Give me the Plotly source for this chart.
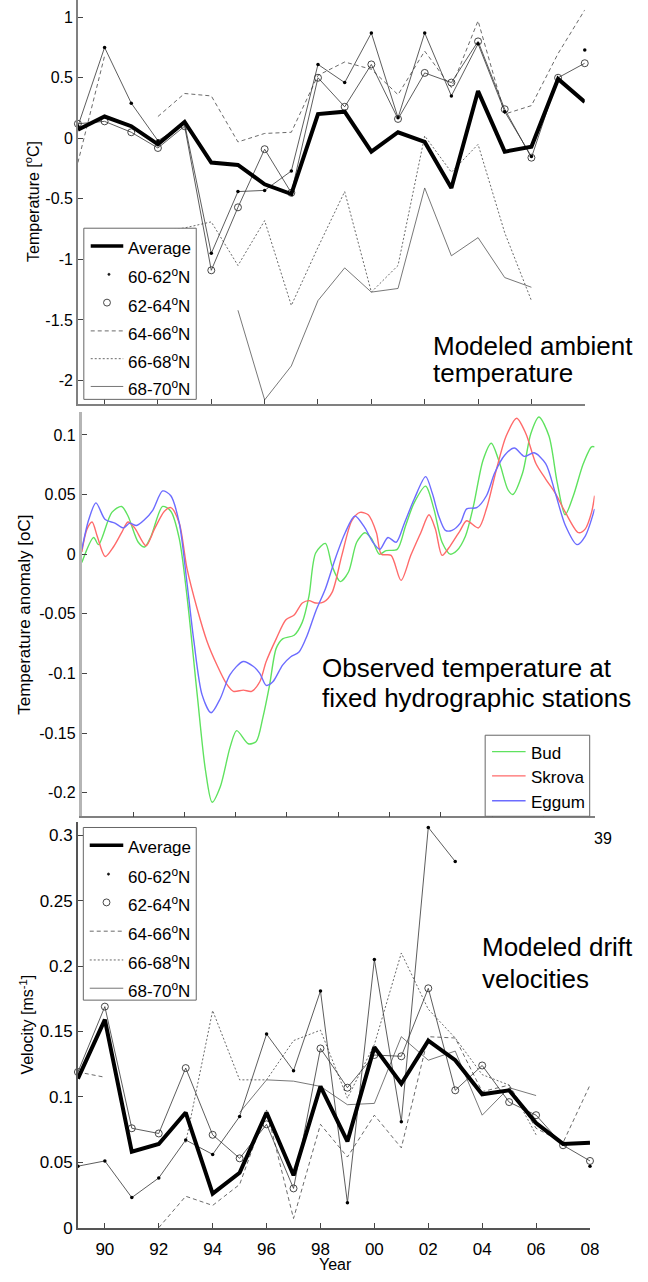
import plotly.graph_objects as go

W, H = 648, 1282
FONT = "Liberation Sans, Arial, Helvetica, sans-serif"

# ---------------- data ----------------
years = list(range(1989, 2009))

# Panel 1: modeled ambient temperature (deg C)
temp_avg = [0.07, 0.18, 0.10, -0.05, 0.135, -0.20, -0.22, -0.38, -0.46, 0.20,
            0.22, -0.11, 0.05, -0.03, -0.41, 0.39, -0.11, -0.07, 0.49, 0.30]
temp_60_62 = [0.10, 0.75, 0.29, -0.02, 0.12, -0.95, -0.44, -0.43, -0.27, 0.61,
              0.46, 0.87, 0.17, 0.87, 0.35, 0.78, 0.22, -0.15, None, 0.73]
temp_62_64 = [0.12, 0.14, 0.05, -0.08, 0.10, -1.09, -0.57, -0.09, -0.45, 0.50,
              0.26, 0.61, 0.16, 0.54, 0.46, 0.80, 0.24, -0.16, 0.50, 0.62]
temp_64_66 = [-0.20, 0.68, None, 0.18, 0.37, 0.35, -0.03, 0.04, 0.05, 0.52,
              0.63, 0.57, 0.36, 0.72, 0.42, 0.97, 0.20, 0.27, 0.70, 1.06]
temp_66_68 = [None, None, None, -0.77, -0.74, -0.69, -1.05, -0.68, -1.38, -0.90,
              -0.44, -1.27, -1.05, 0.02, -0.28, -0.05, -0.78, -1.34, None, None]
temp_68_70 = [None, None, None, None, None, None, -1.42, -2.16, -1.88, -1.34,
              -1.07, -1.27, -1.24, -0.41, -0.97, -0.82, -1.15, -1.23, None, None]

# Panel 2: observed temperature anomaly at fixed stations (deg C)
bud_x = [1989.0, 1989.46, 1989.65, 1990.17, 1990.55, 1990.8, 1991.2, 1991.45, 1991.7, 1992.15,
         1992.47, 1992.8, 1993.1, 1993.5, 1993.82, 1994.08, 1994.4, 1994.78, 1995.04, 1995.49,
         1995.8, 1996.06, 1996.32, 1996.58, 1996.83, 1997.28, 1997.6, 1997.86, 1998.12, 1998.5,
         1998.76, 1999.08, 1999.4, 1999.72, 2000.04, 2000.3, 2000.6, 2000.87, 2001.3, 2001.63,
         2001.96, 2002.41, 2002.73, 2003.05, 2003.37, 2003.63, 2003.96, 2004.27, 2004.65, 2004.97,
         2005.3, 2005.62, 2005.81, 2006.19, 2006.51, 2006.83, 2007.22, 2007.54, 2007.85, 2008.17,
         2008.56, 2008.88, 2009.0]
bud_y = [-0.007, 0.014, 0.008, 0.035, 0.040, 0.032, 0.010, 0.006, 0.015, 0.040,
         0.036, 0.013, -0.035, -0.118, -0.181, -0.208, -0.195, -0.162, -0.148, -0.159,
         -0.157, -0.137, -0.110, -0.079, -0.071, -0.068, -0.057, -0.035, 0.001, 0.009,
         -0.010, -0.023, -0.015, 0.010, 0.018, 0.013, 0.000, 0.003, 0.004, 0.024,
         0.043, 0.057, 0.038, 0.010, 0.000, 0.003, 0.015, 0.040, 0.079, 0.093,
         0.076, 0.054, 0.050, 0.068, 0.101, 0.115, 0.099, 0.060, 0.033, 0.049,
         0.076, 0.090, 0.090]
skrova_x = [1989.0, 1989.2, 1989.4, 1989.6, 1989.91, 1990.23, 1990.55, 1990.8, 1991.06, 1991.5,
            1991.83, 1992.22, 1992.47, 1992.8, 1993.1, 1993.5, 1993.88, 1994.27, 1994.65, 1994.91,
            1995.3, 1995.62, 1995.94, 1996.19, 1996.58, 1996.96, 1997.28, 1997.6, 1997.86, 1998.12,
            1998.44, 1998.76, 1999.14, 1999.53, 1999.85, 2000.17, 2000.49, 2000.68, 2001.06, 2001.45,
            2001.83, 2002.22, 2002.54, 2002.79, 2003.05, 2003.37, 2003.76, 2004.01, 2004.47, 2004.78,
            2005.17, 2005.55, 2005.96, 2006.32, 2006.71, 2007.09, 2007.47, 2007.86, 2008.37, 2008.63,
            2008.88, 2009.0]
skrova_y = [0.002, 0.021, 0.027, 0.015, -0.002, 0.006, 0.018, 0.027, 0.022, 0.007,
            0.021, 0.036, 0.039, 0.026, -0.012, -0.046, -0.073, -0.093, -0.109, -0.115,
            -0.114, -0.115, -0.107, -0.090, -0.071, -0.055, -0.051, -0.041, -0.039, -0.041,
            -0.040, -0.032, -0.001, 0.028, 0.035, 0.033, 0.018, 0.000, -0.001, -0.022,
            -0.001, 0.018, 0.033, 0.021, -0.001, 0.007, 0.020, 0.028, 0.022, 0.038,
            0.071, 0.099, 0.114, 0.101, 0.076, 0.063, 0.051, 0.035, 0.018, 0.021,
            0.035, 0.049]
eggum_x = [1989.0, 1989.27, 1989.55, 1989.91, 1990.29, 1990.62, 1990.87, 1991.13, 1991.45, 1991.77,
           1992.15, 1992.47, 1992.8, 1993.1, 1993.37, 1993.69, 1994.04, 1994.4, 1994.78, 1995.29,
           1995.68, 1995.94, 1996.19, 1996.45, 1996.83, 1997.15, 1997.47, 1997.79, 1998.12, 1998.5,
           1998.88, 1999.27, 1999.65, 2000.04, 2000.35, 2000.62, 2000.94, 2001.26, 2001.58, 2001.96,
           2002.41, 2002.67, 2002.92, 2003.18, 2003.44, 2003.76, 2004.01, 2004.4, 2004.78, 2005.1,
           2005.49, 2005.87, 2006.26, 2006.64, 2007.09, 2007.47, 2007.86, 2008.31, 2008.63, 2009.0]
eggum_y = [0.004, 0.029, 0.043, 0.029, 0.026, 0.022, 0.026, 0.024, 0.029, 0.037,
           0.053, 0.049, 0.026, -0.024, -0.073, -0.118, -0.133, -0.121, -0.101, -0.090,
           -0.094, -0.100, -0.110, -0.107, -0.093, -0.086, -0.082, -0.068, -0.048, -0.029,
           -0.004, 0.018, 0.032, 0.022, 0.010, 0.004, 0.014, 0.010, 0.026, 0.046,
           0.065, 0.051, 0.032, 0.020, 0.020, 0.026, 0.038, 0.039, 0.049, 0.068,
           0.083, 0.089, 0.082, 0.085, 0.076, 0.051, 0.024, 0.008, 0.015, 0.038]

# Panel 3: modeled drift velocities (m/s)
vel_avg = [0.114, 0.159, 0.058, 0.064, 0.088, 0.026, 0.042, 0.088, 0.040, 0.108,
           0.066, 0.138, 0.110, 0.143, 0.128, 0.102, 0.105, 0.080, 0.064, 0.065]
vel_60_62 = [0.047, 0.051, 0.023, 0.038, 0.067, 0.056, 0.085, 0.148, 0.120, 0.181,
             0.019, 0.205, 0.081, 0.306, 0.280, None, None, None, None, 0.047]
vel_62_64 = [0.119, 0.169, 0.076, 0.072, 0.122, 0.071, 0.053, 0.079, 0.030, 0.137,
             0.107, 0.132, 0.131, 0.183, 0.105, 0.124, 0.096, 0.086, 0.063, 0.051]
vel_64_66 = [0.119, 0.115, None, 0.000, 0.024, 0.017, 0.033, 0.090, 0.007, 0.079,
             0.054, 0.086, 0.061, 0.146, 0.145, 0.104, 0.109, 0.076, 0.065, 0.109]
vel_66_68 = [None, None, None, None, 0.065, 0.166, 0.113, 0.113, 0.143, 0.151,
             0.099, 0.140, 0.210, 0.167, 0.145, 0.117, 0.109, 0.071, None, None]
vel_68_70 = [None, None, None, None, None, None, 0.088, 0.113, 0.112, 0.108,
             0.094, 0.095, 0.146, 0.128, 0.135, 0.086, 0.107, 0.101, None, None]

band_labels = ["Average", "60-62<sup>o</sup>N", "62-64<sup>o</sup>N",
               "64-66<sup>o</sup>N", "66-68<sup>o</sup>N", "68-70<sup>o</sup>N"]
station_labels = ["Bud", "Skrova", "Eggum"]

temp_ticks = [-2, -1.5, -1, -0.5, 0, 0.5, 1]
temp_ticktext = ["-2", "-1.5", "-1", "-0.5", "0", "0.5", "1"]
anom_ticks = [-0.2, -0.15, -0.1, -0.05, 0, 0.05, 0.1]
anom_ticktext = ["-0.2", "-0.15", "-0.1", "-0.05", "0", "0.05", "0.1"]
vel_ticks = [0, 0.05, 0.1, 0.15, 0.2, 0.25, 0.3]
vel_ticktext = ["0", "0.05", "0.1", "0.15", "0.2", "0.25", "0.3"]
year_ticks = list(range(1990, 2009, 2))
year_ticktext = ["90", "92", "94", "96", "98", "00", "02", "04", "06", "08"]
obs_ticks = list(range(1991, 2010, 2))

# ---------------- styling ----------------
def X(px):
    return px / W


def Y(py):
    return 1 - py / H


THIN = "#333333"
styles = [
    dict(mode="lines", line=dict(color="black", width=4)),
    dict(mode="lines+markers", line=dict(color=THIN, width=0.8),
         marker=dict(symbol="circle", size=3.5, color="black")),
    dict(mode="lines+markers", line=dict(color=THIN, width=0.8),
         marker=dict(symbol="circle-open", size=7, color="#333333", line=dict(width=0.9))),
    dict(mode="lines", line=dict(color="#444444", width=0.8, dash="4px,3px")),
    dict(mode="lines", line=dict(color="#444444", width=0.8, dash="2px,2px")),
    dict(mode="lines", line=dict(color="#555555", width=0.8)),
]

fig = go.Figure()

temp_series = [temp_avg, temp_60_62, temp_62_64, temp_64_66, temp_66_68, temp_68_70]
vel_series = [vel_avg, vel_60_62, vel_62_64, vel_64_66, vel_66_68, vel_68_70]

for order in [5, 4, 3, 2, 1, 0]:
    fig.add_trace(go.Scatter(x=years, y=temp_series[order], name=band_labels[order],
                             xaxis="x", yaxis="y", showlegend=False, cliponaxis=False,
                             **styles[order]))
for order in [5, 4, 3, 2, 1, 0]:
    fig.add_trace(go.Scatter(x=years, y=vel_series[order], name=band_labels[order],
                             xaxis="x3", yaxis="y3", showlegend=False, cliponaxis=False,
                             **styles[order]))

station_colors = ["#5fe25f", "#ff6a6a", "#6c6cff"]
for sx, sy, col, nm in [(bud_x, bud_y, station_colors[0], station_labels[0]),
                        (skrova_x, skrova_y, station_colors[1], station_labels[1]),
                        (eggum_x, eggum_y, station_colors[2], station_labels[2])]:
    fig.add_trace(go.Scatter(x=sx, y=sy, name=nm, mode="lines", xaxis="x2", yaxis="y2",
                             showlegend=False,
                             line=dict(color=col, width=1.4, shape="spline", smoothing=0.8)))

axis_common = dict(showgrid=False, zeroline=False, ticks="inside", ticklen=5, tickwidth=1,
                   tickcolor="#444444", showline=True, linewidth=1.5, linecolor="#808080",
                   tickfont=dict(family=FONT, size=16, color="black"))

fig.update_layout(
    width=W, height=H,
    margin=dict(l=0, r=0, t=0, b=0),
    paper_bgcolor="white", plot_bgcolor="rgba(0,0,0,0)",
    showlegend=False,
    font=dict(family=FONT, color="black"),
    xaxis=dict(domain=[X(79), X(593)], range=[1989, 2008], anchor="y",
               tickvals=year_ticks, showticklabels=False, **axis_common),
    yaxis=dict(domain=[Y(406.7), Y(0)], range=[-2.19, 1.142], anchor="x",
               tickvals=temp_ticks, ticktext=temp_ticktext, **axis_common),
    xaxis2=dict(domain=[X(83), X(603)], range=[1989, 2009], anchor="y2",
                tickvals=obs_ticks, showticklabels=False, **axis_common),
    yaxis2=dict(domain=[Y(822.7), Y(415)], range=[-0.2198, 0.1194], anchor="x2",
                tickvals=anom_ticks, ticktext=anom_ticktext,
                **{**axis_common, "linecolor": "#b5b5b5", "linewidth": 3}),
    xaxis3=dict(domain=[X(79), X(598.3)], range=[1989, 2008], anchor="y3",
                tickvals=year_ticks, ticktext=year_ticktext, ticklabelstandoff=5,
                **{**axis_common, "linecolor": "#555555", "tickfont": dict(family=FONT, size=17)}),
    yaxis3=dict(domain=[Y(1237.3), Y(828)], range=[0, 0.3105], anchor="x3",
                tickvals=vel_ticks, ticktext=vel_ticktext,
                **{**axis_common, "linecolor": "#555555", "tickfont": dict(family=FONT, size=17)}),
)

shapes = []
annotations = []

TEXT_SHIFT = -4  # px, moves text boxes down so glyphs sit where the reference has them


def text(px, py, s, size=17, anchor="left", angle=0, yanchor="middle", shift=TEXT_SHIFT):
    annotations.append(dict(x=X(px), y=Y(py), xref="paper", yref="paper", text=s,
                            showarrow=False, xanchor=anchor, yanchor=yanchor, yshift=shift,
                            textangle=angle, font=dict(family=FONT, size=size, color="black")))


def hline(x0, x1, py, color, width, dash="solid"):
    shapes.append(dict(type="line", xref="paper", yref="paper", x0=X(x0), x1=X(x1),
                       y0=Y(py), y1=Y(py), line=dict(color=color, width=width, dash=dash),
                       layer="above"))


def box(x0, x1, y0, y1):
    shapes.append(dict(type="rect", xref="paper", yref="paper", x0=X(x0), x1=X(x1),
                       y0=Y(y1), y1=Y(y0), line=dict(color="#666666", width=1),
                       fillcolor="white", layer="above"))


def circle(cx, cy, r, filled):
    shapes.append(dict(type="circle", xref="paper", yref="paper", x0=X(cx - r), x1=X(cx + r),
                       y0=Y(cy + r), y1=Y(cy - r),
                       line=dict(color="#333333", width=0.9),
                       fillcolor="black" if filled else "rgba(0,0,0,0)", layer="above"))


def band_legend(x0, x1, y0, y1, rows, lx0, lx1, tx):
    box(x0, x1, y0, y1)
    mx = (lx0 + lx1) / 2
    hline(lx0, lx1, rows[0], "black", 3.5)
    circle(mx + 2, rows[1], 1.1, True)
    circle(mx, rows[2], 3.5, False)
    hline(lx0, lx1, rows[3], "#444444", 0.8, "4px,3px")
    hline(lx0, lx1, rows[4], "#444444", 0.8, "2px,2px")
    hline(lx0, lx1, rows[5], "#666666", 0.9)
    for r, lab in zip(rows, band_labels):
        text(tx, r, lab, 17, shift=-2)


band_legend(85, 199, 230, 402.5, [248, 276.5, 305, 333.5, 361.5, 389.5], 92, 125, 128)
band_legend(84.5, 199, 834, 1008, [852, 881, 909.5, 938.5, 967.5, 996], 91, 125, 128)

# station legend (its lower edge is hidden behind the lower panel)
box(492, 598, 741, 822.7)
for r, col, lab in zip([757.5, 782, 807], station_colors, station_labels):
    hline(499, 533, r, col, 1.4)
    text(536, r, lab, 17, shift=-2)

# axis titles
text(33, 203, "Temperature [<sup>o</sup>C]", 16, "center", -90, shift=0)
text(25, 620, "Temperature anomaly [oC]", 17, "center", -90, shift=0)
text(27, 1033, "Velocity [ms<sup>-1</sup>]", 16, "center", -90, shift=0)
text(340, 1282, "Year", 16, "center", yanchor="bottom", shift=-3)

# panel captions
text(437, 345, "Modeled ambient", 26)
text(437, 372, "temperature", 26)
text(324, 669, "Observed temperature at", 26)
text(324, 699, "fixed hydrographic stations", 26)
text(487, 950, "Modeled drift", 26)
text(487, 983, "velocities", 26)

# stray tick-label fragment visible at the right edge
text(600, 841, "39", 16)

fig.update_layout(shapes=shapes, annotations=annotations)
fig.write_html("out.html")
